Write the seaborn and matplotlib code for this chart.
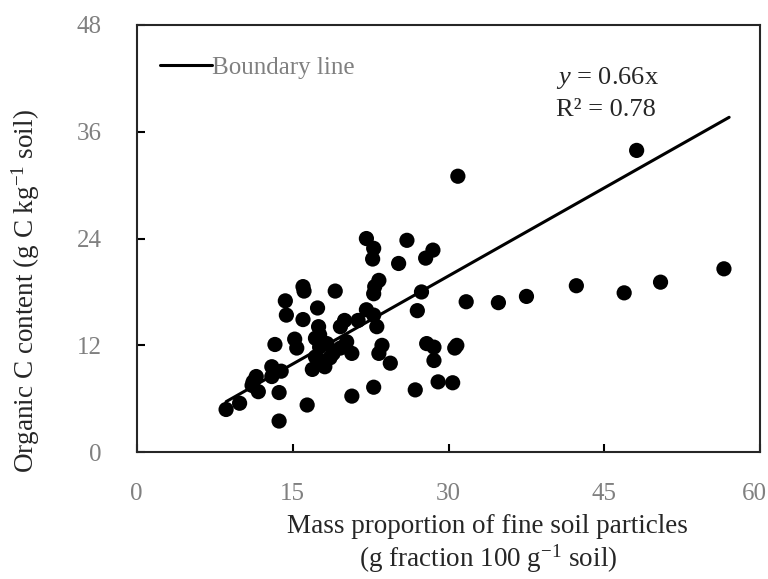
import numpy as np
import pandas as pd
import matplotlib
matplotlib.use("Agg")
import matplotlib.pyplot as plt
import matplotlib.transforms as mtransforms
import seaborn as sns

# fine particle mass proportion (g fraction 100 g-1 soil)
fine = [8.6, 9.9, 13.7, 16.4, 20.7, 22.8, 26.8, 29.0, 30.4, 13.7,
        11.2, 11.5, 11.7, 11.1, 13.0, 13.0, 13.9, 13.3, 15.2, 15.4,
        14.3, 14.4, 16.0, 16.1, 16.0, 17.4, 19.1, 19.6, 20.0, 21.3,
        22.1, 22.8, 22.7, 26.0, 25.2, 27.8, 28.5, 23.3, 22.9, 22.8,
        22.1, 22.8, 23.1, 27.4, 27.0, 31.7, 23.6, 23.3, 24.4, 27.9,
        28.6, 28.6, 30.8, 30.6, 30.9, 48.1, 56.5, 50.4, 46.9, 42.3,
        37.5, 34.8, 17.5, 17.6, 17.2, 17.6, 18.3, 17.2, 17.5, 18.1,
        18.9, 19.6, 20.2, 20.7, 17.8, 18.6, 16.9]
# organic C content (g C kg-1 soil)
orgc = [4.8, 5.5, 3.5, 5.3, 6.3, 7.3, 7.0, 7.9, 7.8, 6.7,
        7.9, 8.5, 6.8, 7.5, 9.6, 8.5, 9.1, 12.1, 12.7, 11.7,
        17.0, 15.4, 18.6, 18.1, 14.9, 16.2, 18.1, 14.1, 14.8, 14.8,
        24.0, 22.9, 21.7, 23.8, 21.2, 21.8, 22.7, 19.3, 18.6, 17.8,
        16.0, 15.4, 14.1, 18.0, 15.9, 16.9, 12.0, 11.1, 10.0, 12.2,
        11.8, 10.3, 12.0, 11.7, 31.0, 33.9, 20.6, 19.1, 17.9, 18.7,
        17.5, 16.8, 14.1, 13.2, 12.8, 11.8, 12.2, 10.7, 10.0, 9.6,
        11.1, 11.7, 12.4, 11.1, 10.2, 10.6, 9.3]
slope = 0.66
line_x = [8.6, 57.0]

df = pd.DataFrame({"fine": fine, "orgc": orgc})
line_df = pd.DataFrame({"x": line_x, "y": [slope * v for v in line_x]})

sns.set_style("ticks")
plt.rcParams["font.family"] = ["Liberation Serif", "DejaVu Serif"]
plt.rcParams["mathtext.fontset"] = "custom"
plt.rcParams["mathtext.rm"] = "Liberation Serif"
plt.rcParams["mathtext.it"] = "Liberation Serif:italic"

fig = plt.figure(figsize=(7.68, 5.79), dpi=100)
ax = fig.add_axes([0.178, 0.219, 0.812, 0.738])

sns.scatterplot(data=df, x="fine", y="orgc", color="black", s=120,
                edgecolor="none", ax=ax, zorder=3)
sns.lineplot(data=line_df, x="x", y="y", color="black", linewidth=2.2,
             ax=ax, label="Boundary line", zorder=2)

ax.set_xlim(0, 60)
ax.set_ylim(0, 48)
ax.set_xticks([0, 15, 30, 45, 60])
ax.set_yticks([0, 12, 24, 36, 48])
ax.tick_params(direction="in", length=6, width=1.5, colors="black",
               labelcolor="#808080", labelsize=18)
ax.tick_params(axis="x", pad=22)
ax.tick_params(axis="y", pad=25)
for sp in ax.spines.values():
    sp.set_linewidth(1.5)

# keep the last x tick label inside the figure
last = ax.get_xticklabels()[-1]
last.set_transform(last.get_transform() +
                   mtransforms.ScaledTranslation(-6 / 100, 0, fig.dpi_scale_trans))

ax.set_xlabel("Mass proportion of fine soil particles\n(g fraction 100 g$^{-1}$ soil)",
              fontsize=19.5, linespacing=1.15)
ax.xaxis.set_label_coords(0.563, -0.144, transform=ax.transAxes)
ax.xaxis.label.set_verticalalignment("top")
ax.set_ylabel("Organic C content (g C kg$^{-1}$ soil)", fontsize=19.5)
ax.yaxis.set_label_coords(-0.152, 0.377)

ax.legend(loc="upper left", frameon=False, fontsize=18,
          handlelength=2.1, handletextpad=0.0, labelcolor="#808080",
          borderpad=0, borderaxespad=0, bbox_to_anchor=(0.037, 0.926))

ax.text(0.673, 0.876, "$y$ = 0.66x", transform=ax.transAxes, fontsize=19,
        va="center", ha="left")
ax.text(0.673, 0.801, "R² = 0.78", transform=ax.transAxes, fontsize=19,
        va="center", ha="left")

fig.savefig("out.png", dpi=100)
